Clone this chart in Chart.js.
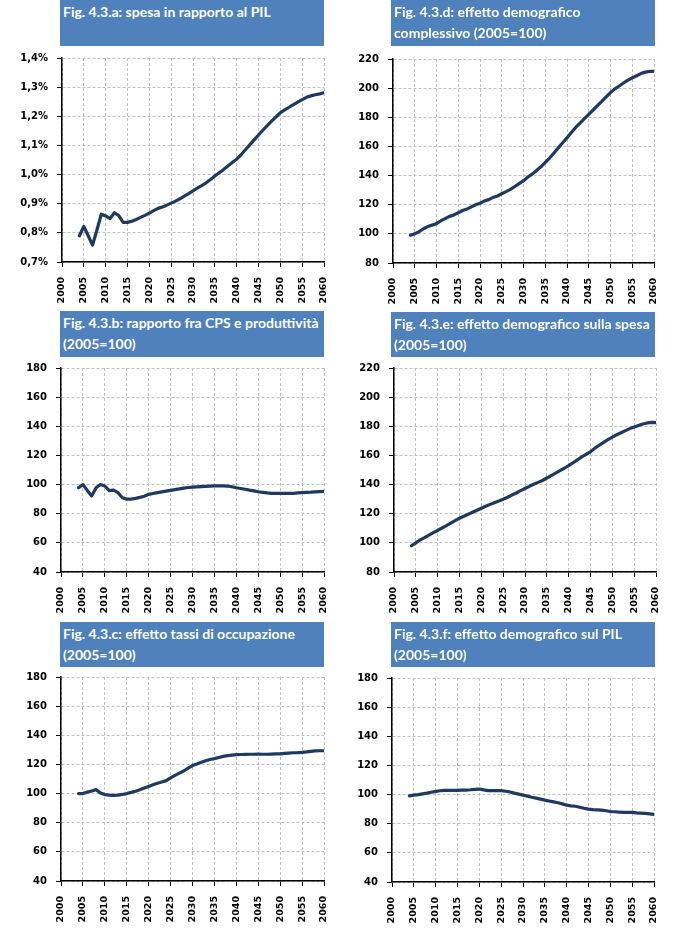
<!DOCTYPE html>
<html><head><meta charset="utf-8">
<script src="https://cdn.jsdelivr.net/npm/chart.js@4.4.1/dist/chart.umd.min.js"></script>
<style>
html,body{margin:0;padding:0;background:#fff;}
body{width:682px;height:951px;position:relative;overflow:hidden;}
.t{position:absolute;background:#4F81BD;color:#fff;font-family:Lato,'Open Sans',sans-serif;font-weight:bold;font-size:14px;line-height:20.5px;padding:2px 0 0 3px;box-sizing:border-box;z-index:2;white-space:nowrap;overflow:hidden;}
canvas{position:absolute;z-index:1;}
</style></head><body>
<script>
// ---- data ----
const years = [2004,2005,2006,2007,2008,2009,2010,2011,2012,2013,2014,2015,2016,2017,2018,2019,2020,2021,2022,2023,2024,2025,2026,2027,2028,2029,2030,2031,2032,2033,2034,2035,2036,2037,2038,2039,2040,2041,2042,2043,2044,2045,2046,2047,2048,2049,2050,2051,2052,2053,2054,2055,2056,2057,2058,2059,2060];
const xTickYears = [2000,2005,2010,2015,2020,2025,2030,2035,2040,2045,2050,2055,2060];

const spesaPil = [0.79,0.822,0.79,0.758,0.81,0.864,0.858,0.849,0.869,0.859,0.836,0.836,0.84,0.846,0.853,0.86,0.868,0.876,0.884,0.889,0.895,0.902,0.909,0.917,0.926,0.935,0.944,0.954,0.962,0.972,0.983,0.995,1.006,1.017,1.029,1.041,1.053,1.068,1.085,1.102,1.119,1.136,1.152,1.168,1.183,1.198,1.212,1.222,1.231,1.24,1.249,1.257,1.265,1.27,1.274,1.277,1.281];
const cpsProd = [97.8,100,96,92.2,97.8,100,99,95.8,96.2,94.5,91,90,90,90.5,91.2,92,93.3,93.9,94.5,95,95.5,96,96.5,97,97.6,98,98.2,98.4,98.6,98.8,99,99.1,99.1,99.1,99,98.5,97.8,97.3,96.8,96.2,95.7,95.1,94.7,94.3,94,94,94,94,94,94,94.3,94.5,94.7,94.8,95,95.2,95.3];
const tassiOcc = [100,100,101,101.8,102.7,100.4,99.3,98.9,98.8,98.9,99.4,100,100.8,101.6,102.6,103.8,104.9,106,107.1,108,108.9,110.8,112.5,114,115.5,117.5,119.2,120.3,121.5,122.5,123.4,124,124.8,125.5,126,126.4,126.7,126.8,126.9,127,127,127.1,127,127,127.1,127.2,127.3,127.6,127.8,128,128.1,128.3,128.6,129,129.3,129.4,129.4];
const demComplessivo = [99,100,101.5,103.5,105,106,107,109,110.5,112,113,114.5,116,117,118.5,120,121,122.5,123.5,125,126,127.5,129,130.5,132.5,134.5,136.5,139,141,143.5,146,149,152,155.5,159,162.5,166,169.5,173,176,179,182,185,188,191,194,197,199.5,201.5,203.5,205.5,207,208.5,210,211,211.5,211.5];
const demSpesa = [98,100,102,103.6,105.3,107,108.5,110.2,111.8,113.5,115.2,116.9,118.3,119.6,121,122.4,123.8,125.1,126.4,127.6,128.7,129.9,131.3,132.8,134.2,135.8,137.3,138.8,140.2,141.5,142.8,144.5,146.2,147.8,149.5,151.2,153,155,157,159,160.8,162.5,165,167,169,170.8,172.6,174.2,175.6,177,178.4,179.5,180.6,181.6,182.3,182.7,182.5];
const demPil = [99.1,99.6,100,100.5,101,101.6,102.2,102.6,102.9,102.9,102.9,102.9,103,103.1,103.3,103.6,103.8,103.2,102.7,102.7,102.7,102.7,102.3,101.8,101,100.3,99.6,98.9,98.2,97.6,96.9,96.2,95.6,95,94.4,93.6,92.7,92.3,92,91.3,90.6,90,89.7,89.5,89.3,88.9,88.4,88.2,88,87.8,87.8,87.8,87.5,87.3,87.1,86.8,86.4];

const titles = {
  a: ['Fig. 4.3.a: spesa in rapporto al PIL'],
  d: ['Fig. 4.3.d: effetto demografico', 'complessivo (2005=100)'],
  b: ['Fig. 4.3.b: rapporto fra CPS e produttività', '(2005=100)'],
  e: ['Fig. 4.3.e: effetto demografico sulla spesa', '(2005=100)'],
  c: ['Fig. 4.3.c: effetto tassi di occupazione', '(2005=100)'],
  f: ['Fig. 4.3.f: effetto demografico sul PIL', '(2005=100)']
};
const yRangeA = [0.7, 1.4, 0.1];
const yRangeIdx1 = [80, 220, 20];
const yRangeIdx2 = [40, 180, 20];

// ---- layout ----
const panels = [
  {key:'a', data:spesaPil, yr:yRangeA, pct:true, L:62, R:324, T:55, B:262, tb:[60,0,264,46]},
  {key:'d', data:demComplessivo, yr:yRangeIdx1, L:393, R:654, T:56, B:263, tb:[391,0,264,46]},
  {key:'b', data:cpsProd, yr:yRangeIdx2, L:61, R:324, T:365, B:572, tb:[60,311,264,46]},
  {key:'e', data:demSpesa, yr:yRangeIdx1, L:394, R:656, T:365, B:572, tb:[391,312,264,45]},
  {key:'c', data:tassiOcc, yr:yRangeIdx2, L:61, R:324, T:674, B:881, tb:[60,622,264,45]},
  {key:'f', data:demPil, yr:yRangeIdx2, L:392, R:654, T:675, B:882, tb:[391,622,264,45]}
];

const YW = 55, PADT = 12, PADR = 24, XH = 50;
const lineColor = '#1F3A60';

panels.forEach(p => {
  const t = document.createElement('div');
  t.className = 't';
  t.style.left = p.tb[0]+'px'; t.style.top = p.tb[1]+'px';
  t.style.width = p.tb[2]+'px'; t.style.height = p.tb[3]+'px';
  t.innerHTML = titles[p.key].join('<br>');
  document.body.appendChild(t);

  const cv = document.createElement('canvas');
  const w = YW + (p.R - p.L) + PADR;
  const h = PADT + (p.B - p.T) + XH;
  cv.width = w; cv.height = h;
  cv.style.width = w+'px'; cv.style.height = h+'px';
  cv.style.left = (p.L - YW)+'px'; cv.style.top = (p.T - PADT)+'px';
  document.body.appendChild(cv);

  const pts = years.map((y,i) => ({x:y, y:p.data[i]}));
  new Chart(cv, {
    type:'line',
    data:{datasets:[{data:pts, borderColor:lineColor, borderWidth:3.2, pointRadius:0, tension:0, fill:false, borderJoinStyle:'round', borderCapStyle:'round'}]},
    options:{
      responsive:false, animation:false, events:[],
      layout:{padding:{top:PADT, right:PADR, left:0, bottom:0}},
      plugins:{legend:{display:false}, tooltip:{enabled:false}},
      scales:{
        x:{type:'linear', min:xTickYears[0], max:xTickYears[xTickYears.length-1],
          afterFit: s => { s.height = XH; },
          afterBuildTicks: s => { s.ticks = xTickYears.map(v => ({value:v})); },
          ticks:{autoSkip:false, maxRotation:90, minRotation:90, padding:10, color:'#000',
            font:{family:'DejaVu Sans', weight:'bold', size:9.5}, callback: v => String(v)},
          grid:{color:'#BFBFBF', lineWidth:1, tickColor:'#000', tickLength:5, drawTicks:true},
          border:{display:true, color:'#000', width:1.5, dash:[3,2]}
        },
        y:{type:'linear', min:p.yr[0], max:p.yr[1],
          afterFit: s => { s.width = YW; },
          ticks:{stepSize:p.yr[2], padding:9, color:'#000',
            font:{family:'DejaVu Sans', weight:'bold', size:10},
            callback: v => p.pct ? (Math.round(v*10)/10).toFixed(1).replace('.',',')+'%' : String(Math.round(v))},
          grid:{color:'#BFBFBF', lineWidth:1, tickColor:'#000', tickLength:5, drawTicks:true},
          border:{display:true, color:'#000', width:1.5, dash:[3,2]}
        }
      }
    }
  });
});
</script>
</body></html>
